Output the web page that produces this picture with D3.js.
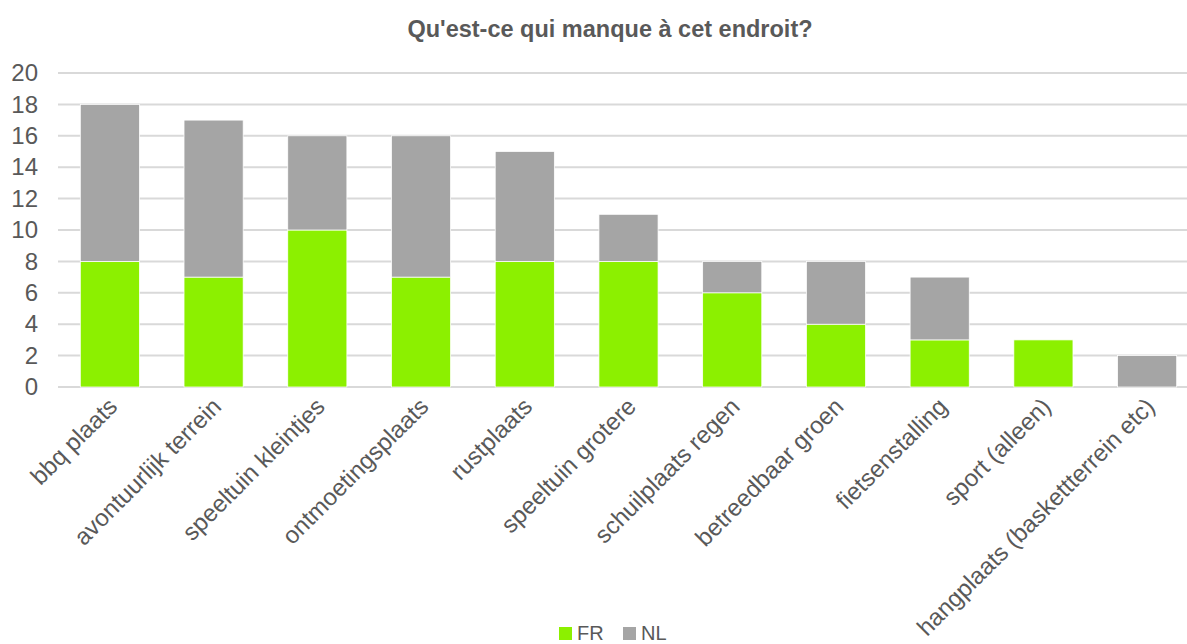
<!DOCTYPE html>
<html>
<head>
<meta charset="utf-8">
<script src="https://cdn.jsdelivr.net/npm/d3@7"></script>
<style>
  body { margin: 0; background: #fff; overflow: hidden; }
  svg { font-family: "Liberation Sans", Arial, sans-serif; }
</style>
</head>
<body>
<div id="chart"></div>
<script>
const categories = ["bbq plaats", "avontuurlijk terrein", "speeltuin kleintjes", "ontmoetingsplaats",
  "rustplaats", "speeltuin grotere", "schuilplaats regen", "betreedbaar groen",
  "fietsenstalling", "sport (alleen)", "hangplaats (baskettterrein etc)"];
const frValues = [8, 7, 10, 7, 8, 8, 6, 4, 3, 3, 0];
const nlValues = [10, 10, 6, 9, 7, 3, 2, 4, 4, 0, 2];
const seriesNames = ["FR", "NL"];
const seriesColors = ["#8cf000", "#a5a5a5"];
const yTicks = [0, 2, 4, 6, 8, 10, 12, 14, 16, 18, 20];

const w = 1187, h = 644;
const plotLeft = 58, plotRight = 1199, plotTop = 73, plotBottom = 387;
const textColor = "#595959";

const svg = d3.select("#chart").append("svg")
  .attr("width", w)
  .attr("height", h);

const x = d3.scaleBand()
  .domain(categories)
  .range([plotLeft, plotRight])
  .paddingInner(0.43)
  .paddingOuter(0.215);

const y = d3.scaleLinear()
  .domain([0, 20])
  .range([plotBottom, plotTop]);

// title
svg.append("text")
  .attr("x", 610)
  .attr("y", 37)
  .attr("text-anchor", "middle")
  .style("font-size", "23.5px")
  .style("font-weight", "bold")
  .style("fill", textColor)
  .text("Qu'est-ce qui manque à cet endroit?");

// grid
svg.append("g")
  .selectAll("line")
  .data(yTicks)
  .join("line")
  .attr("x1", plotLeft)
  .attr("x2", plotRight)
  .attr("y1", d => y(d))
  .attr("y2", d => y(d))
  .attr("stroke", "#d9d9d9")
  .attr("stroke-width", 2);

// y axis labels
const yAxis = d3.axisLeft(y).tickValues(yTicks).tickSize(0).tickPadding(0);
const yg = svg.append("g")
  .attr("transform", "translate(38,0)")
  .call(yAxis);
yg.select(".domain").remove();
yg.selectAll("text")
  .style("font-size", "24px")
  .style("font-family", "Liberation Sans, Arial, sans-serif")
  .attr("fill", textColor);

// stacked bars
const rows = categories.map((c, i) => ({ cat: c, FR: frValues[i], NL: nlValues[i] }));
const stack = d3.stack().keys(seriesNames)(rows);

svg.append("g")
  .selectAll("g")
  .data(stack)
  .join("g")
  .attr("fill", (d, i) => seriesColors[i])
  .selectAll("rect")
  .data(d => d.filter(s => s[1] - s[0] > 0))
  .join("rect")
  .attr("x", d => x(d.data.cat))
  .attr("y", d => y(d[1]))
  .attr("width", x.bandwidth())
  .attr("height", d => y(d[0]) - y(d[1]))
  .attr("stroke", "#ffffff")
  .attr("stroke-width", 0.75);

// x axis labels
const xAxis = d3.axisBottom(x).tickSize(0).tickPadding(0);
const xg = svg.append("g")
  .attr("transform", "translate(0," + plotBottom + ")")
  .call(xAxis);
xg.select(".domain").remove();
xg.selectAll("text")
  .style("font-size", "24px")
  .style("font-family", "Liberation Sans, Arial, sans-serif")
  .attr("fill", textColor)
  .attr("text-anchor", "end")
  .attr("dy", "0")
  .attr("transform", "translate(9,21) rotate(-45)");

// legend
const legend = svg.append("g").attr("transform", "translate(559,627)");
const items = legend.selectAll("g")
  .data(seriesNames)
  .join("g")
  .attr("transform", (d, i) => "translate(" + (i * 64) + ",0)");
items.append("rect")
  .attr("width", 13)
  .attr("height", 13)
  .attr("fill", (d, i) => seriesColors[i]);
items.append("text")
  .attr("x", 18)
  .attr("y", 13)
  .style("font-size", "20px")
  .attr("fill", textColor)
  .text(d => d);
</script>
</body>
</html>
